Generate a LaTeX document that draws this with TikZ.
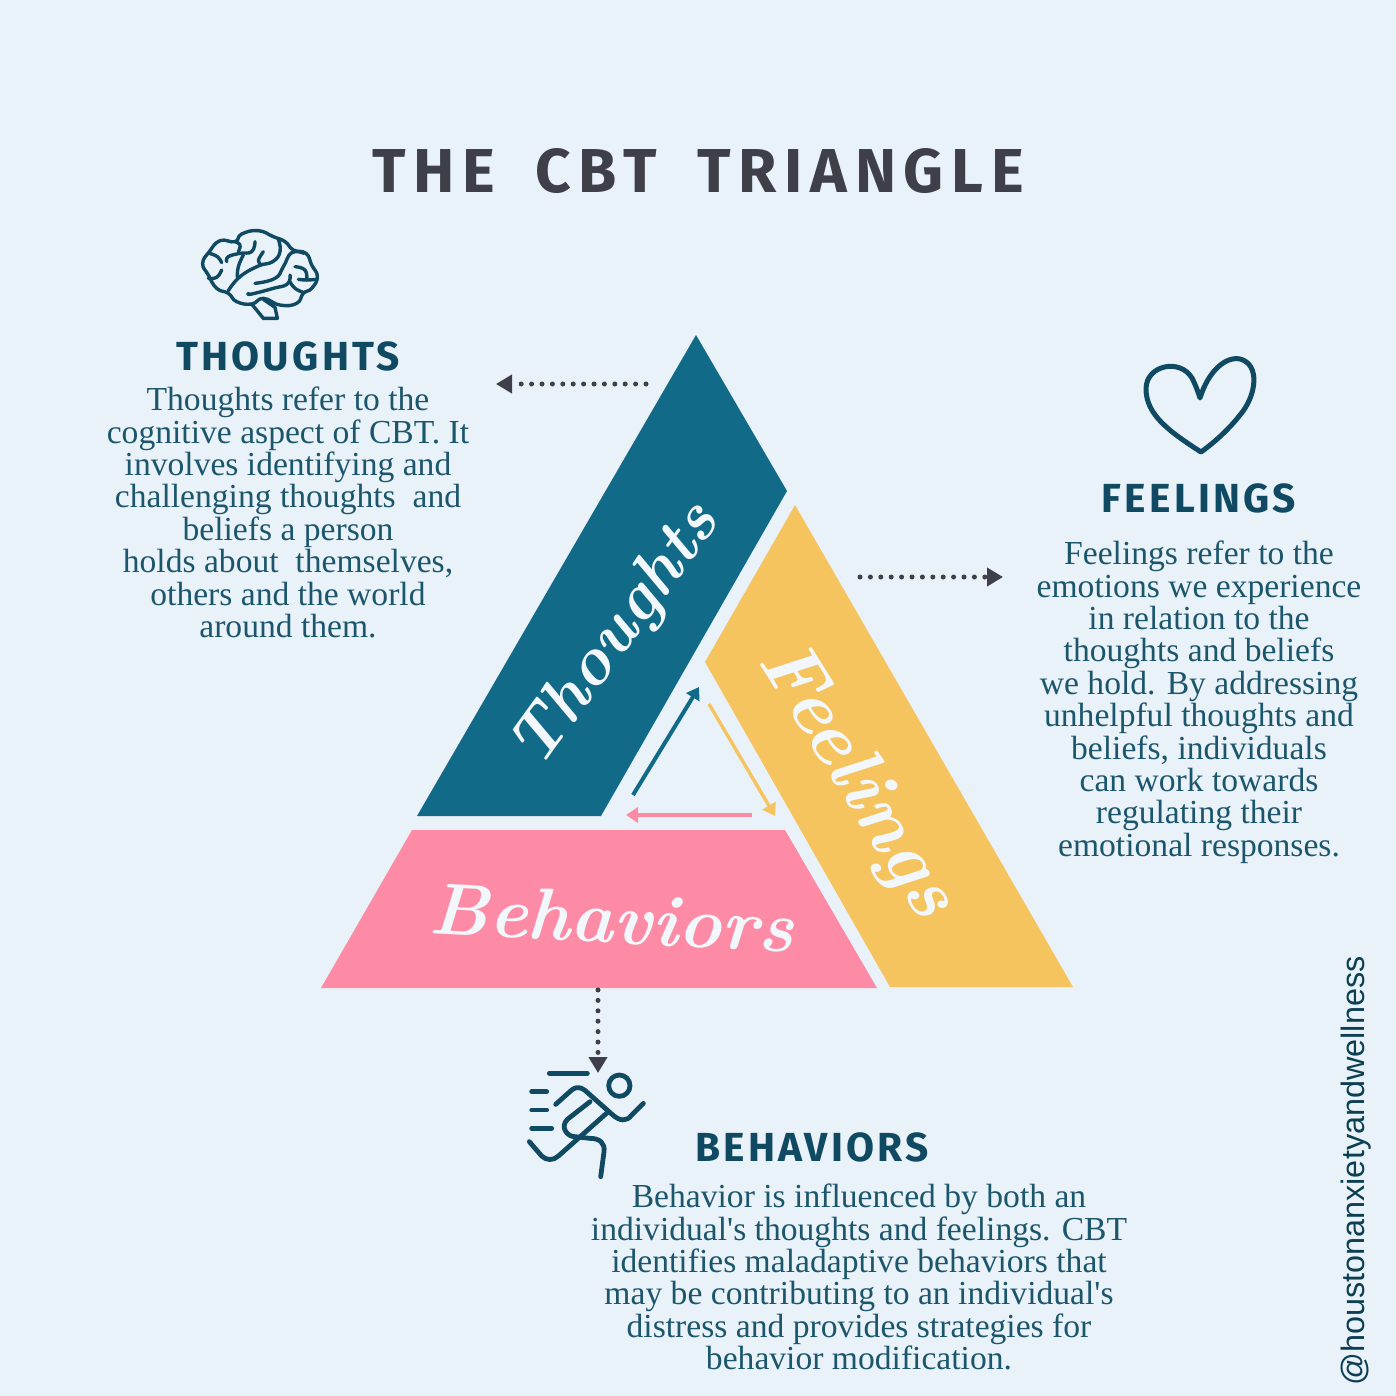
\documentclass[tikz,border=0pt]{standalone}
\usepackage{fontspec}
\setmainfont{Liberation Serif}[Ligatures=TeXOff]
\newfontfamily\headfont[LetterSpace=8]{Fira Sans}
\newfontfamily\titlefont[LetterSpace=12.5,WordSpace=1.8]{Fira Sans}
\newfontfamily\handlefont{Liberation Sans}
\newfontfamily\wordfont{Latin Modern Roman}
\usetikzlibrary{arrows.meta}
\definecolor{paper}{HTML}{E9F2F8}
\definecolor{teal}{HTML}{116A87}
\definecolor{sun}{HTML}{F6C45F}
\definecolor{rose}{HTML}{FD8BA6}
\definecolor{ink}{HTML}{0F4A62}
\definecolor{bodyink}{HTML}{1C566C}
\definecolor{coal}{HTML}{3F3F48}
\tikzset{
  headline/.style={font=\headfont\fontsize{20.3}{22}\selectfont\bfseries,text=ink},
  bodytext/.style={font=\fontsize{16.8}{16.2}\selectfont,text=bodyink,align=center},
  wordmark/.style={font=\wordfont\bfseries\itshape\fontsize{#1}{50}\selectfont,text=paper!60!white},
  dotline/.style={coal,line width=2.5pt,line cap=round,dash pattern=on 0pt off 5.2pt,
    -{Triangle[length=8pt,width=9pt,sep=-1pt]}},
  iconline/.style={ink,line width=2.4pt,line cap=round,line join=round},
  brainline/.style={ink,line width=1.7pt,line cap=round,line join=round}
}
\begin{document}
\begin{tikzpicture}[x=0.5pt,y=-0.5pt]
\fill[paper] (0,0) rectangle (1396,1396);
\useasboundingbox (0,0) rectangle (1396,1396);

\node[font=\titlefont\fontsize{31}{34}\selectfont\bfseries,text=coal] (title) at (698,171) {THE CBT TRIANGLE};

% triangle
\fill[teal] (696,335) -- (787,491) -- (601,816) -- (417,816) -- cycle;
\fill[sun] (795,505) -- (1073,987) -- (890,987) -- (705,662) -- cycle;
\fill[rose] (412,830) -- (785,830) -- (877,988) -- (321,988) -- cycle;

\node[wordmark=33.5,rotate=54] (thoughtsword) at (617,636) {Thoughts};
\node[wordmark=39,rotate=-58] (feelingsword) at (856,781) {Feelings};
\node[wordmark=36.5,rotate=-3] (behaviorsword) at (612,918) {Behaviors};

% inner arrows
\coordinate (BlueA) at (633,795);
\coordinate (BlueB) at (699,687);
\coordinate (SunA) at (709,704);
\coordinate (SunB) at (775,816);
\coordinate (RoseA) at (752,815);
\coordinate (RoseB) at (626,815);
\draw[teal,line width=2pt,-{Triangle[length=6pt,width=7.5pt]}] (BlueA) -- (BlueB);
\draw[sun,line width=1.7pt,-{Triangle[length=6pt,width=7.5pt]}] (SunA) -- (SunB);
\draw[rose,line width=2pt,-{Triangle[length=6pt,width=7.5pt]}] (RoseA) -- (RoseB);

% dotted arrows
\coordinate (ThinkA) at (646,384);
\coordinate (ThinkB) at (498,384);
\coordinate (FeelA) at (860,577);
\coordinate (FeelB) at (1001,577);
\coordinate (ActA) at (598,990);
\coordinate (ActB) at (598,1071);
\draw[dotline] (ThinkA) -- (ThinkB);
\draw[dotline] (FeelA) -- (FeelB);
\draw[dotline] (ActA) -- (ActB);

% thoughts
\node[headline] (thoughtshead) at (288,356) {THOUGHTS};
\node[bodytext,anchor=north] (thoughtstext) at (288,380) {Thoughts refer to the\\cognitive aspect of CBT. It\\involves identifying and\\challenging thoughts~ and\\beliefs a person\\holds about~ themselves,\\others and the world\\around them.};

% feelings
\node[headline] (feelingshead) at (1199,498) {FEELINGS};
\node[bodytext,anchor=north] (feelingstext) at (1199,534) {Feelings refer to the\\emotions we experience\\in relation to the\\thoughts and beliefs\\we hold. By addressing\\unhelpful thoughts and\\beliefs, individuals\\can work towards\\regulating their\\emotional responses.};

% behaviors
\node[headline] (behaviorshead) at (812,1147) {BEHAVIORS};
\node[bodytext,anchor=north] (behaviorstext) at (859,1177) {Behavior is influenced by both an\\individual's thoughts and feelings. CBT\\identifies maladaptive behaviors that\\may be contributing to an individual's\\distress and provides strategies for\\behavior modification.};

\node[font=\handlefont\fontsize{16.2}{18}\selectfont,text=ink!85!black,rotate=90] (handle) at (1356,1171) {@houstonanxietyandwellness};

% heart
\draw[ink,line width=2.5pt,line join=round] (1201,452) .. controls (1170,432) and (1146,415) .. (1146,389)
  .. controls (1146,365) and (1180,358) .. (1192,378) .. controls (1196,386) and (1198,392) .. (1200,398)
  .. controls (1208,372) and (1225,356) .. (1240,359) .. controls (1260,364) and (1257,395) .. (1240,415)
  .. controls (1230,428) and (1215,442) .. (1201,452) -- cycle;

% brain
\begin{scope}[shift={(180,220)},x=0.1667pt,y=-0.1667pt]
\draw[brainline] plot[smooth cycle,tension=0.8] coordinates {(85,165) (68,130) (88,95) (120,62) (165,65) (185,42) (235,32) (280,50) (315,65) (340,90) (378,100) (395,135) (412,170) (395,205) (370,220) (350,250) (300,255) (250,235) (215,252) (170,245) (145,220) (110,205)};
\draw[brainline] (215,252) -- (250,295) -- (292,295) -- (285,262) -- (250,238);
\draw[brainline] plot[smooth,tension=0.8] coordinates {(295,58) (300,95) (278,125) (235,138) (180,170) (145,212)};
\draw[brainline] plot[smooth,tension=0.8] coordinates {(165,65) (180,75) (175,95)};
\draw[brainline] plot[smooth,tension=0.8] coordinates {(225,65) (215,95) (180,100) (145,110) (140,125)};
\draw[brainline] plot[smooth,tension=0.8] coordinates {(190,105) (175,140) (172,172)};
\draw[brainline] plot[smooth,tension=0.8] coordinates {(250,95) (235,122) (245,135)};
\draw[brainline] plot[smooth,tension=0.8] coordinates {(88,100) (112,110) (125,128)};
\draw[brainline] plot[smooth,tension=0.8] coordinates {(125,150) (110,172) (85,175)};
\draw[brainline] plot[smooth,tension=0.8] coordinates {(372,100) (335,98) (310,140) (285,175) (225,190)};
\draw[brainline] plot[smooth,tension=0.8] coordinates {(345,140) (375,150) (380,180)};
\draw[brainline] plot[smooth,tension=0.8] coordinates {(355,178) (380,180) (410,178)};
\draw[brainline] plot[smooth,tension=0.8] coordinates {(330,165) (322,192) (280,205) (215,222) (205,220)};
\draw[brainline] plot[smooth,tension=0.8] coordinates {(330,185) (345,205) (372,218)};
\end{scope}

% runner
\begin{scope}[shift={(510,1040)},x=0.1667pt,y=-0.1667pt]
\draw[iconline] (328,137) circle (32);
\draw[iconline] (118,100) -- (232,100);
\foreach \y/\e in {155/110,210/110,265/125}
  \draw[iconline] (65,\y) -- (\e,\y);
\draw[iconline] (137,193) -- (185,150) .. controls (205,135) and (220,145) .. (235,160) -- (305,222) .. controls (330,245) and (350,245) .. (365,225) -- (400,190);
\draw[iconline] (240,185) -- (172,238) .. controls (150,260) and (170,290) .. (195,290) -- (240,295) .. controls (270,295) and (285,310) .. (282,335) -- (272,410);
\draw[iconline] (295,215) -- (145,348) .. controls (130,362) and (110,362) .. (95,348) -- (58,305);
\end{scope}
\end{tikzpicture}
\end{document}
